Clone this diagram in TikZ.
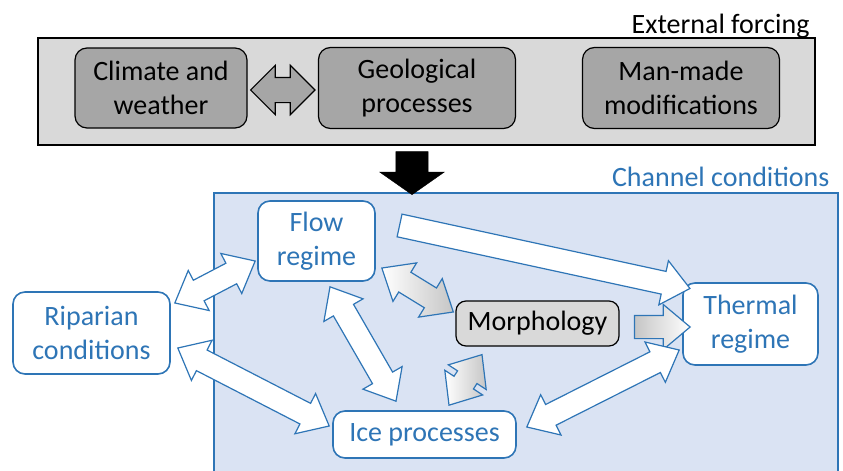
\documentclass[tikz,border=0pt]{standalone}
\usepackage{fontspec}
\setmainfont{Carlito}
\usetikzlibrary{calc,shapes.arrows}
\definecolor{chblue}{HTML}{2E75B6}
\definecolor{chfill}{HTML}{DAE3F3}
\definecolor{extfill}{HTML}{D9D9D9}
\definecolor{boxgray}{HTML}{A6A6A6}
\newcommand{\blockarrow}[3][]{%
\path let \p1=($(#3)-(#2)$), \n1={veclen(\x1,\y1)}, \n2={atan2(\y1,\x1)} in
node[#1, minimum height=\n1, rotate=\n2] at ($(#2)!0.5!(#3)$) {};}
\tikzset{
txt/.style={font=\fontsize{28}{34}\selectfont, align=center},
graybox/.style={txt, draw, fill=boxgray, rounded corners=12pt, line width=1.2pt},
bluebox/.style={txt, draw=chblue, fill=white, text=chblue, rounded corners=12pt, line width=1.6pt},
dblarrow/.style={shape=double arrow, draw=chblue, fill=white, line width=1.2pt, inner xsep=0pt, inner ysep=11, minimum width=44, double arrow head extend=11, double arrow tip angle=80},
sglarrow/.style={shape=single arrow, draw=chblue, fill=white, line width=1.2pt, inner xsep=0pt, inner ysep=11, minimum width=44, single arrow head extend=11, single arrow tip angle=80},
}
\begin{document}
\begin{tikzpicture}[x=1pt,y=-1pt]
\useasboundingbox (0,0) rectangle (843,471);
\clip (0,0) rectangle (843,471);
\node[draw, fill=extfill, line width=1.2pt, minimum width=777, minimum height=107] (ext) at (426.5,91.5) {};
\node[txt, anchor=base east] (extlbl) at (813,33) {External forcing};
\node[graybox, minimum width=172, minimum height=80] (clim) at (161,88) {Climate and\\weather};
\node[graybox, minimum width=197, minimum height=81] (geo) at (417,88) {Geological\\processes};
\node[graybox, minimum width=197, minimum height=81] (man) at (681,88) {Man-made\\modifications};
\node[draw=chblue, fill=chfill, line width=1.6pt, minimum width=624, minimum height=300, anchor=north west] (chan) at (213,192) {};
\node[txt, text=chblue, anchor=base east] (chanlbl) at (833,186) {Channel conditions};
\node[bluebox, minimum width=117, minimum height=80] (flow) at (316.5,241) {Flow\\regime};
\node[bluebox, minimum width=157, minimum height=82] (rip) at (91.5,333) {Riparian\\conditions};
\node[txt, draw, fill=extfill, rounded corners=10pt, line width=1.2pt, minimum width=163, minimum height=45] (morph) at (537.5,323.5) {Morphology};
\node[bluebox, minimum width=135, minimum height=82] (therm) at (750.5,324) {Thermal\\regime};
\node[bluebox, minimum width=183, minimum height=47] (ice) at (424.5,434.5) {Ice processes};
\coordinate (d1) at (412,146);
\coordinate (d2) at ([yshift=3pt]d1 |- chan.north);
\coordinate (cg1) at ([shift={(3,2)}]clim.east);
\coordinate (cg2) at ([shift={(-3,2)}]geo.west);
\coordinate (rf1) at ([shift={(4,-30)}]rip.east);
\coordinate (rf2) at ([shift={(-2,20)}]flow.west);
\coordinate (ri1) at ([shift={(7,15)}]rip.east);
\coordinate (ri2) at ([shift={(-3,-8.5)}]ice.west);
\coordinate (fi1) at ([shift={(13.5,5)}]flow.south);
\coordinate (fi2) at ([shift={(-28.5,-9)}]ice.north);
\coordinate (fm1) at ([shift={(6,27)}]flow.east);
\coordinate (fm2) at ([shift={(-2,-11.5)}]morph.west);
\coordinate (im1) at ([shift={(24.5,-5)}]ice.north);
\coordinate (im2) at ([shift={(-55.5,8)}]morph.south);
\coordinate (mt1) at ([shift={(8,3.5)}]morph.east);
\coordinate (mt2) at ([shift={(1,3)}]therm.west);
\coordinate (it1) at ([shift={(10,-7.5)}]ice.east);
\coordinate (it2) at ([shift={(-3,26)}]therm.west);
\coordinate (ft1) at ([shift={(17,-17)}]flow.east);
\coordinate (ft2) at ([shift={(1,-37)}]therm.west);
\blockarrow[shape=single arrow, draw=black, fill=black, inner xsep=0pt, inner ysep=16, minimum width=64, single arrow head extend=16, single arrow tip angle=110]{d1}{d2}
\blockarrow[shape=double arrow, draw=black, fill=boxgray, line width=1.2pt, inner xsep=0pt, inner ysep=12, minimum width=48, double arrow head extend=12, double arrow tip angle=90]{cg1}{cg2}
\blockarrow[dblarrow]{rf1}{rf2}
\blockarrow[dblarrow]{ri1}{ri2}
\blockarrow[dblarrow]{fi1}{fi2}
\blockarrow[dblarrow, left color=white, right color=gray!45]{fm1}{fm2}
\blockarrow[dblarrow, left color=white, right color=gray!45]{im1}{im2}
\blockarrow[sglarrow, left color=gray!45, right color=white]{mt1}{mt2}
\blockarrow[dblarrow]{it1}{it2}
\blockarrow[sglarrow]{ft1}{ft2}
\end{tikzpicture}
\end{document}
